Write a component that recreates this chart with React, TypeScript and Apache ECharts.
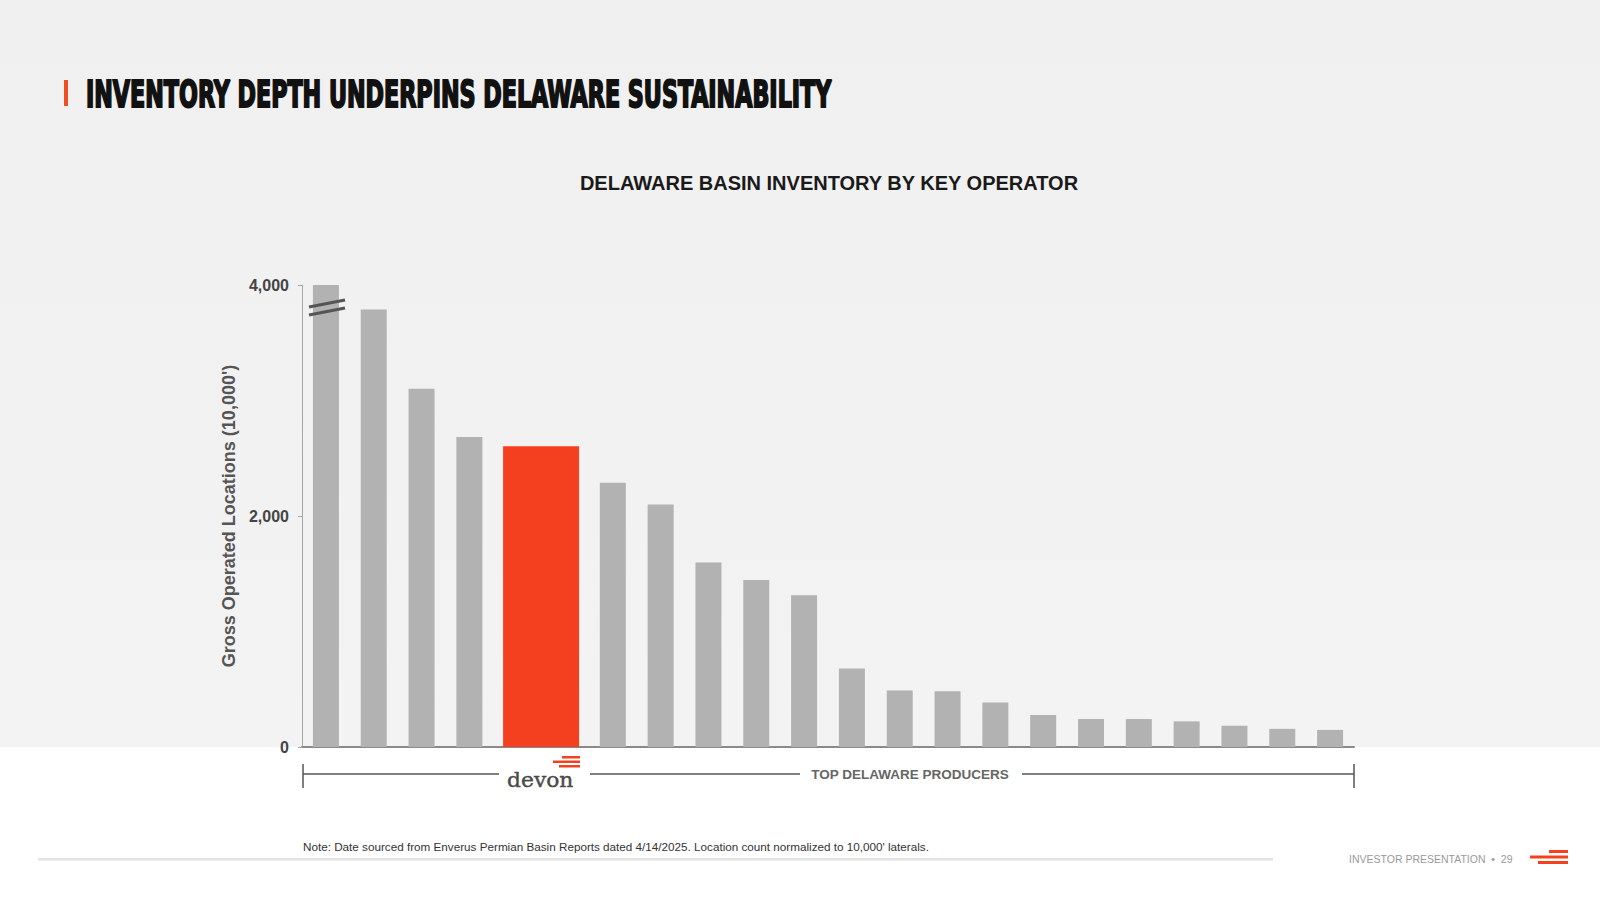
import React, { useEffect, useRef } from 'react';
import * as echarts from 'echarts';

// ---- Data ----
const operators = [
  'Operator 1', 'Operator 2', 'Operator 3', 'Operator 4', 'Devon',
  'Operator 6', 'Operator 7', 'Operator 8', 'Operator 9', 'Operator 10',
  'Operator 11', 'Operator 12', 'Operator 13', 'Operator 14', 'Operator 15',
  'Operator 16', 'Operator 17', 'Operator 18', 'Operator 19', 'Operator 20', 'Operator 21',
];
const locations = [
  4000, 3787, 3101, 2684, 2604,
  2288, 2100, 1597, 1445, 1314,
  680, 490, 482, 385, 277,
  242, 242, 222, 184, 157, 148,
];
const highlightOperator = 'Devon';
const yTicks = [0, 2000, 4000];
const pageTitle = 'INVENTORY DEPTH UNDERPINS DELAWARE SUSTAINABILITY';
const chartTitle = 'DELAWARE BASIN INVENTORY BY KEY OPERATOR';
const yAxisName = "Gross Operated Locations (10,000')";
const bracketLabel = 'TOP DELAWARE PRODUCERS';
const noteText = "Note: Date sourced from Enverus Permian Basin Reports dated 4/14/2025. Location count normalized to 10,000' laterals.";
const footerText = 'INVESTOR PRESENTATION  \u2022  29';

// ---- Build slot data (highlighted operator spans two slots) ----
const slotNames: string[] = [];
const greyData: (number | string)[] = [];
let highlightSlot = 0;
operators.forEach((op, i) => {
  if (op === highlightOperator) {
    highlightSlot = slotNames.length;
    slotNames.push(op + ' a', op + ' b');
    greyData.push('-', '-');
  } else {
    slotNames.push(op);
    greyData.push(locations[i]);
  }
});
const pairNames: string[] = [];
const highlightData: (number | string)[] = [];
for (let p = 0; p < slotNames.length / 2; p++) {
  pairNames.push('pair ' + p);
  highlightData.push(p === highlightSlot / 2 ? locations[operators.indexOf(highlightOperator)] : '-');
}

const GREY = '#b2b2b2';
const ORANGE = '#F5401F';
const SANS = '"Liberation Sans", Arial, Helvetica, sans-serif';

export default function App() {
  const ref = useRef<HTMLDivElement>(null);

  useEffect(() => {
    document.body.style.margin = '0';
    const chart = echarts.init(ref.current!, undefined, { renderer: 'svg' });
    const axisY = 774;
    const lineStyle = { stroke: '#555', lineWidth: 1.5 };
    chart.setOption({
      animation: false,
      backgroundColor: 'transparent',
      title: {
        text: chartTitle,
        left: 824,
        top: 168,
        textAlign: 'center',
        textStyle: { fontFamily: SANS, fontSize: 20, fontWeight: 'bold', color: '#1a1a1a' },
      },
      grid: { left: 302, right: 246, top: 285, bottom: 153, containLabel: false },
      xAxis: [
        {
          type: 'category',
          data: slotNames,
          boundaryGap: true,
          axisLine: { show: true, lineStyle: { color: '#8a8a8a', width: 2 } },
          axisTick: { show: false },
          axisLabel: { show: false },
          splitLine: { show: false },
        },
        {
          type: 'category',
          data: pairNames,
          boundaryGap: true,
          show: false,
        },
      ],
      yAxis: {
        type: 'value',
        min: yTicks[0],
        max: yTicks[yTicks.length - 1],
        interval: yTicks[1] - yTicks[0],
        name: yAxisName,
        nameLocation: 'middle',
        nameGap: 62,
        nameTextStyle: { fontFamily: SANS, fontSize: 18, fontWeight: 'bold', color: '#555' },
        axisLine: { show: true, lineStyle: { color: '#a6a6a6', width: 1 } },
        axisTick: { show: true, length: 4, lineStyle: { color: '#a6a6a6' } },
        axisLabel: {
          fontFamily: SANS,
          fontSize: 16,
          fontWeight: 'bold',
          color: '#444',
          margin: 13,
          formatter: (v: number) => v.toLocaleString('en-US'),
        },
        splitLine: { show: false },
      },
      series: [
        {
          type: 'bar',
          xAxisIndex: 0,
          data: greyData,
          barWidth: 26,
          itemStyle: { color: GREY },
        },
        {
          type: 'bar',
          xAxisIndex: 1,
          data: highlightData,
          barWidth: 76,
          itemStyle: { color: ORANGE },
        },
      ],
      graphic: [
        // page title accent + title
        { type: 'rect', shape: { x: 64, y: 80, width: 4, height: 26 }, style: { fill: '#F04E23' } },
        {
          type: 'text', x: 86, y: 94, scaleX: 0.668,
          style: {
            text: pageTitle,
            fontFamily: '"DejaVu Sans Condensed", "Liberation Sans Narrow", sans-serif',
            fontSize: 37, fontWeight: 'bold', fill: '#111',
            stroke: '#111', lineWidth: 2,
            align: 'left', verticalAlign: 'middle',
          },
        },
        // axis break marks on first bar
        { type: 'line', z: 10, shape: { x1: 309, y1: 307, x2: 345, y2: 300 }, style: { stroke: '#555', lineWidth: 3 } },
        { type: 'line', z: 10, shape: { x1: 309, y1: 315, x2: 345, y2: 308 }, style: { stroke: '#555', lineWidth: 3 } },
        // bracket
        { type: 'line', shape: { x1: 303, y1: 764, x2: 303, y2: 788 }, style: lineStyle },
        { type: 'line', shape: { x1: 303, y1: axisY, x2: 499, y2: axisY }, style: lineStyle },
        { type: 'line', shape: { x1: 590, y1: axisY, x2: 800, y2: axisY }, style: lineStyle },
        { type: 'line', shape: { x1: 1022, y1: axisY, x2: 1354, y2: axisY }, style: lineStyle },
        { type: 'line', shape: { x1: 1354, y1: 764, x2: 1354, y2: 788 }, style: lineStyle },
        {
          type: 'text', x: 910, y: 774,
          style: { text: bracketLabel, fontFamily: SANS, fontSize: 13.5, fontWeight: 'bold', fill: '#666', align: 'center', verticalAlign: 'middle' },
        },
        // devon logo
        {
          type: 'text', x: 507, y: 780, scaleX: 1.04,
          style: {
            text: 'devon', fontFamily: '"DejaVu Serif", serif', fontSize: 21, fill: '#4a4a4a',
            stroke: '#4a4a4a', lineWidth: 0.4,
            align: 'left', verticalAlign: 'middle',
          },
        },
        { type: 'rect', shape: { x: 562, y: 756, width: 18, height: 2.5 }, style: { fill: ORANGE } },
        { type: 'rect', shape: { x: 553, y: 760.5, width: 27, height: 2.5 }, style: { fill: ORANGE } },
        { type: 'rect', shape: { x: 559, y: 765, width: 21, height: 2.5 }, style: { fill: ORANGE } },
        // note
        {
          type: 'text', x: 303, y: 846,
          style: { text: noteText, fontFamily: SANS, fontSize: 11.7, fill: '#333', align: 'left', verticalAlign: 'middle' },
        },
        // footer line
        { type: 'rect', shape: { x: 38, y: 858, width: 1235, height: 2.5 }, style: { fill: '#e2e2e2' } },
        {
          type: 'text', x: 1349, y: 859,
          style: { text: footerText, fontFamily: SANS, fontSize: 10.5, fill: '#9a9a9a', align: 'left', verticalAlign: 'middle' },
        },
        // bottom-right logo
        { type: 'rect', shape: { x: 1549, y: 850, width: 19, height: 3 }, style: { fill: ORANGE } },
        { type: 'rect', shape: { x: 1530, y: 855.5, width: 38, height: 3 }, style: { fill: ORANGE } },
        { type: 'rect', shape: { x: 1538, y: 861, width: 30, height: 3 }, style: { fill: ORANGE } },
      ],
    });
    return () => chart.dispose();
  }, []);

  return (
    <div
      ref={ref}
      style={{
        position: 'fixed',
        left: 0,
        top: 0,
        width: 1600,
        height: 900,
        background: 'linear-gradient(to bottom, #f0f0f0 0px, #f3f3f3 747px, #ffffff 747px, #ffffff 900px)',
      }}
    />
  );
}
